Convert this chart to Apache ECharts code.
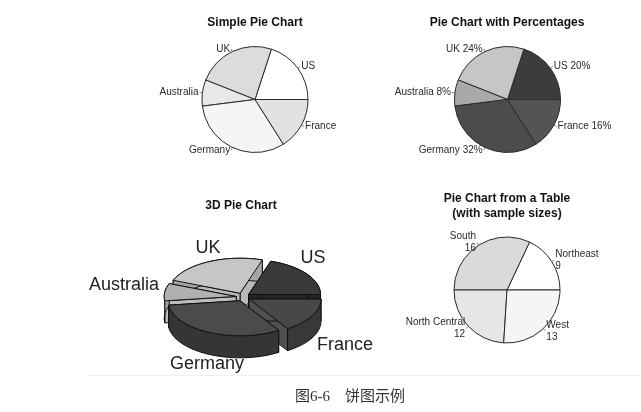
<!DOCTYPE html>
<html><head><meta charset="utf-8">
<style>html,body{margin:0;padding:0;background:#fff}#c{width:641px;height:412px}</style>
<script src="https://cdn.jsdelivr.net/npm/echarts@6/dist/echarts.min.js"></script>
</head><body><div id="c"></div>
<script>
const countries = ['US','UK','Australia','Germany','France'];
const slices = [10,12,4,16,8];
const percentLabels = ['US 20%','UK 24%','Australia 8%','Germany 32%','France 16%'];
const simpleColors = ['#ffffff','#dcdcdc','#e8e8e8','#f5f5f5','#e2e2e2'];
const percentColors = ['#3c3c3c','#c6c6c6','#a9a9a9','#4c4c4c','#545454'];
const regions = ['Northeast','South','North Central','West'];
const regionCounts = [9,16,12,13];
const regionColors = ['#ffffff','#dadada','#e6e6e6','#f5f5f5'];
const topColors3d = ['#3a3a3a','#c6c6c6','#b0b0b0','#4b4b4b','#484848'];
const sideColors3d = ['#262626','#a6a6a6','#a0a0a0','#353535','#383838'];
const faceColors3d = ['#262626','#b8b8b8','#bcbcbc','#3a3a3a','#505050'];
const drawOrder3d = [1,0,2,4,3];

const total = slices.reduce((a,b)=>a+b,0);
const spans = []; let acc = 0;
slices.forEach(v=>{const a=acc/total*2*Math.PI; acc+=v; spans.push([a,acc/total*2*Math.PI]);});
const DEPTH = 0.63, EXPLODE = 0.095;

function render3d(params, api){
  const i = api.value(0), a0 = spans[i][0], a1 = spans[i][1], mid = (a0+a1)/2;
  const ox = EXPLODE*Math.cos(mid), oy = EXPLODE*1.25*Math.sin(mid);
  const rim = [];
  const n = Math.max(8, Math.ceil((a1-a0)/0.04));
  for(let k=0;k<=n;k++){const t=a0+(a1-a0)*k/n; rim.push([ox+Math.cos(t), oy+Math.sin(t)]);}
  const apex = [ox,oy];
  const P = p => api.coord(p);
  const down = p => [p[0], p[1]-DEPTH];
  const poly = (pts,fill) => ({type:'polygon', shape:{points:pts.map(P)}, style:{stroke:'#111', lineWidth:1, fill}});
  const children = [
    poly([apex, rim[0], down(rim[0]), down(apex)], faceColors3d[i]),
    poly([apex, rim[n], down(rim[n]), down(apex)], faceColors3d[i]),
    poly(rim.concat(rim.map(down).reverse()), sideColors3d[i]),
    poly([apex].concat(rim), topColors3d[i])
  ];
  return {type:'group', children};
}

function pie(center, vals, colors, labels){
  return {
    type:'pie', center, radius:[0,53], startAngle:0, clockwise:false, silent:true, animation:false,
    avoidLabelOverlap:false, minShowLabelAngle:0,
    data: vals.map((v,i)=>({name:labels[i], value:v, itemStyle:{color:colors[i]}})),
    itemStyle:{borderColor:'#2a2a2a', borderWidth:1},
    label:{show:true, position:'outside', formatter:'{b}', fontFamily:'Liberation Sans', fontSize:10, color:'#2a2a2a', lineHeight:12, distanceToLabelLine:1},
    labelLine:{show:true, length:3, length2:0, lineStyle:{color:'#555', width:0.7}}
  };
}

const title = (text,cx,top)=>({text,left:cx,top,textAlign:'center',padding:0,itemGap:0,
  textStyle:{fontFamily:'Liberation Sans',fontSize:12,fontWeight:'bold',color:'#111',lineHeight:15}});
const bigLabel = (text,x,y)=>({type:'text',x,y,silent:true,style:{text,fontFamily:'Liberation Sans',fontSize:18,fill:'#222',textAlign:'center',textVerticalAlign:'middle'}});

const chart = echarts.init(document.getElementById('c'),null,{renderer:'canvas'});
chart.setOption({
  animation:false, backgroundColor:'#fff',
  title:[
    title('Simple Pie Chart',255,15),
    title('Pie Chart with Percentages',507,15),
    title('3D Pie Chart',241,198),
    title('Pie Chart from a Table\n(with sample sizes)',507,191)
  ],
  grid:{left:135,width:216,top:227,height:140},
  xAxis:{type:'value',min:-1.5,max:1.5,show:false},
  yAxis:{type:'value',min:-2,max:2,show:false},
  series:[
    pie([255,99.5],slices,simpleColors,countries),
    pie([507.5,99.5],slices,percentColors,percentLabels),
    pie([507,290],regionCounts,regionColors,regions.map((r,i)=>r+'\n'+regionCounts[i])),
    {type:'custom',coordinateSystem:'cartesian2d',silent:true,clip:false,animation:false,
     renderItem:render3d,encode:{x:0,y:0},data:drawOrder3d.map(i=>[i])}
  ],
  graphic:[
    bigLabel(countries[0],313,258),
    bigLabel(countries[1],208,248),
    bigLabel(countries[2],124,285),
    bigLabel(countries[3],207,364),
    bigLabel(countries[4],345,345),
    {type:'line',silent:true,shape:{x1:88,y1:375.5,x2:640,y2:375.5},style:{stroke:'#efefef',lineWidth:1}},
    {type:'text',x:350,y:397,silent:true,style:{text:'图6-6　饼图示例',fontFamily:'"Liberation Serif","Noto Sans CJK SC"',fontSize:15,fill:'#333',textAlign:'center',textVerticalAlign:'middle'}}
  ]
});
</script></body></html>
